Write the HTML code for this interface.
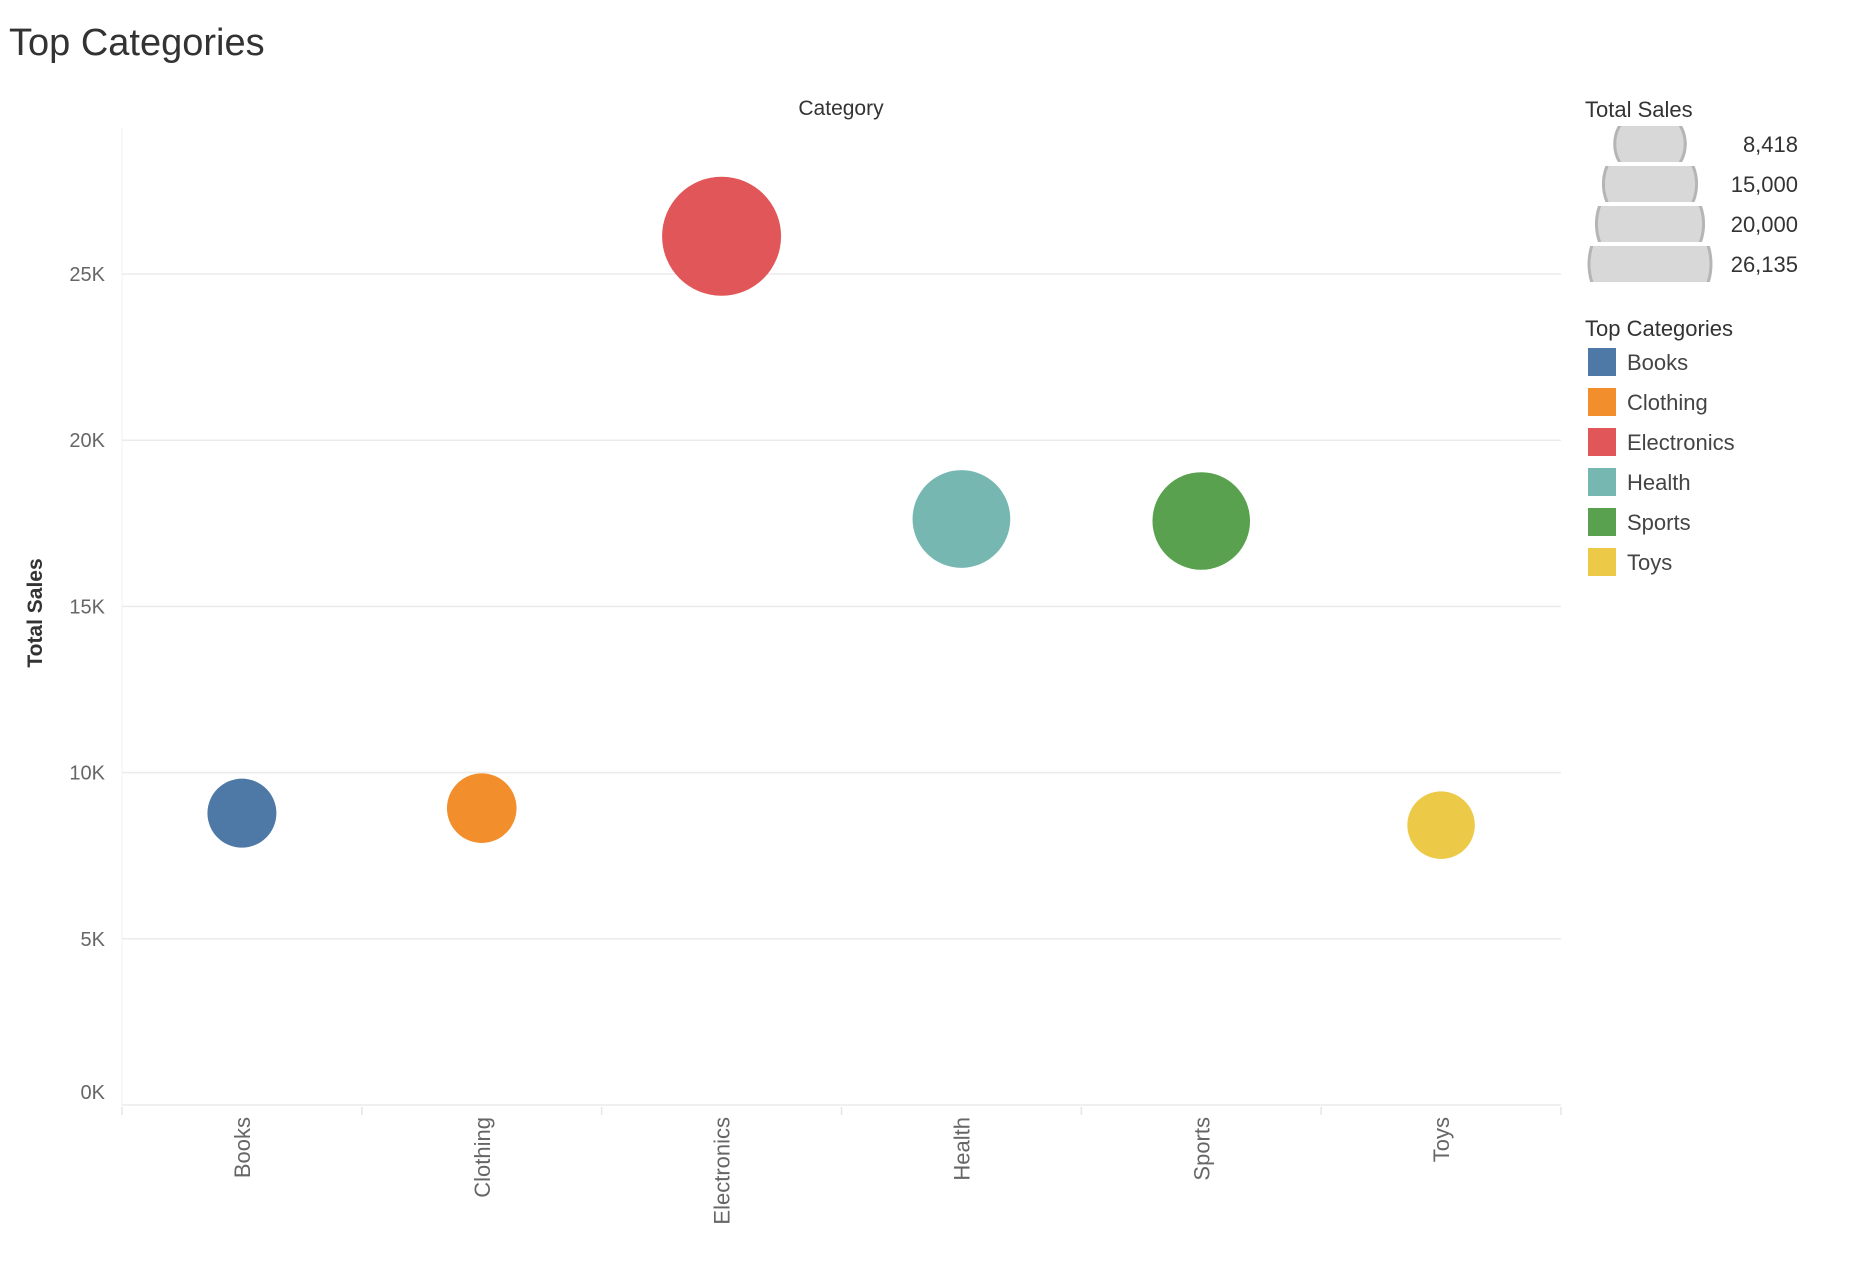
<!DOCTYPE html>
<html><head><meta charset="utf-8"><style>
body{margin:0;background:#fff;font-family:"Liberation Sans",sans-serif;}
svg{display:block}
</style></head><body>
<svg id="chart" width="1862" height="1266">
<text x="9" y="55" font-size="38" fill="#333">Top Categories</text>
<text x="841" y="115" font-size="21" fill="#333" text-anchor="middle">Category</text>
<text transform="translate(42,613) rotate(-90)" font-size="21" fill="#333" text-anchor="middle" font-weight="bold">Total Sales</text>
<g id="grid"></g><g id="marks"></g><g id="legend"></g>
</svg>
<script>
const categories=["Books","Clothing","Electronics","Health","Sports","Toys"];
const sales=[8780,8930,26135,17630,17570,8418];
const colors=["#4e79a7","#f28e2b","#e15759","#76b7b2","#59a14f","#edc948"];
const yTicks=[0,5000,10000,15000,20000,25000];
const yTickLabels=["0K","5K","10K","15K","20K","25K"];
const sizeLegendValues=[8418,15000,20000,26135];
const sizeLegendLabels=["8,418","15,000","20,000","26,135"];
const NS="http://www.w3.org/2000/svg";
const L=122,R=1561,Y0=1105,PX=33.24/1000;
const y=v=>Y0-v*PX;
const bw=(R-L)/categories.length;
const x=i=>L+bw*(i+0.5);
const maxV=Math.max(...sales);
const r=v=>59.5*Math.sqrt(v/maxV);
function mk(t,a,p){const e=document.createElementNS(NS,t);for(const k in a)e.setAttribute(k,a[k]);p.appendChild(e);return e;}
const g=document.getElementById('grid');
const ax=mk('line',{x1:L,x2:L,y1:128,y2:Y0,stroke:'#f0f0f0','stroke-width':1},g);


yTicks.forEach((t,i)=>{
 const ln=mk('line',{x1:L,x2:R,y1:y(t),y2:y(t),stroke:'#ebebeb','stroke-width':1.5},g);
 
 
 const tx=mk('text',{x:105,y:(t===0?y(t)-6:y(t)+7),'font-size':20,fill:'#666','text-anchor':'end'},g);
 tx.textContent=yTickLabels[i];
 
 
});
for(let i=0;i<=categories.length;i++){
 const tk=mk('line',{x1:L+bw*i,x2:L+bw*i,y1:Y0+2,y2:Y0+10,stroke:'#e6e6e6','stroke-width':1.5},g);
 
 
}
const m=document.getElementById('marks');
categories.forEach((c,i)=>{
 const ci=mk('circle',{cx:x(i),cy:y(sales[i]),r:r(sales[i]),fill:colors[i]},m);
 
 
 const tx=mk('text',{transform:`translate(${x(i)+8},1117) rotate(-90)`,'font-size':22,fill:'#666','text-anchor':'end'},m);
 tx.textContent=c;
 
 
});
const lg=document.getElementById('legend');
const t1=mk('text',{x:1585,y:117,'font-size':22,fill:'#333'},lg);
t1.textContent="Total Sales";


const defs=mk('defs',{},lg);
sizeLegendValues.forEach((v,i)=>{
 const top=126+i*40;
 const cp=mk('clipPath',{id:'cl'+i},defs);
 mk('rect',{x:1500,y:top,width:300,height:36},cp);
 const rr=r(v)+1.5;
 const ci=mk('circle',{cx:1650,cy:top+18,r:rr,fill:'#d8d8d8',stroke:'#b5b5b5','stroke-width':3,'clip-path':`url(#cl${i})`},lg);
 
 
 const tx=mk('text',{x:1798,y:top+26,'font-size':22,fill:'#333','text-anchor':'end'},lg);
 tx.textContent=sizeLegendLabels[i];
 
 
});
const t2=mk('text',{x:1585,y:336,'font-size':22,fill:'#333'},lg);
t2.textContent="Top Categories";


categories.forEach((c,i)=>{
 const top=348+i*40;
 const sw=mk('rect',{x:1588,y:top,width:28,height:28,fill:colors[i]},lg);
 
 
 const tx=mk('text',{x:1627,y:top+22,'font-size':22,fill:'#444'},lg);
 tx.textContent=c;
 
 
});
</script>
</body></html>
